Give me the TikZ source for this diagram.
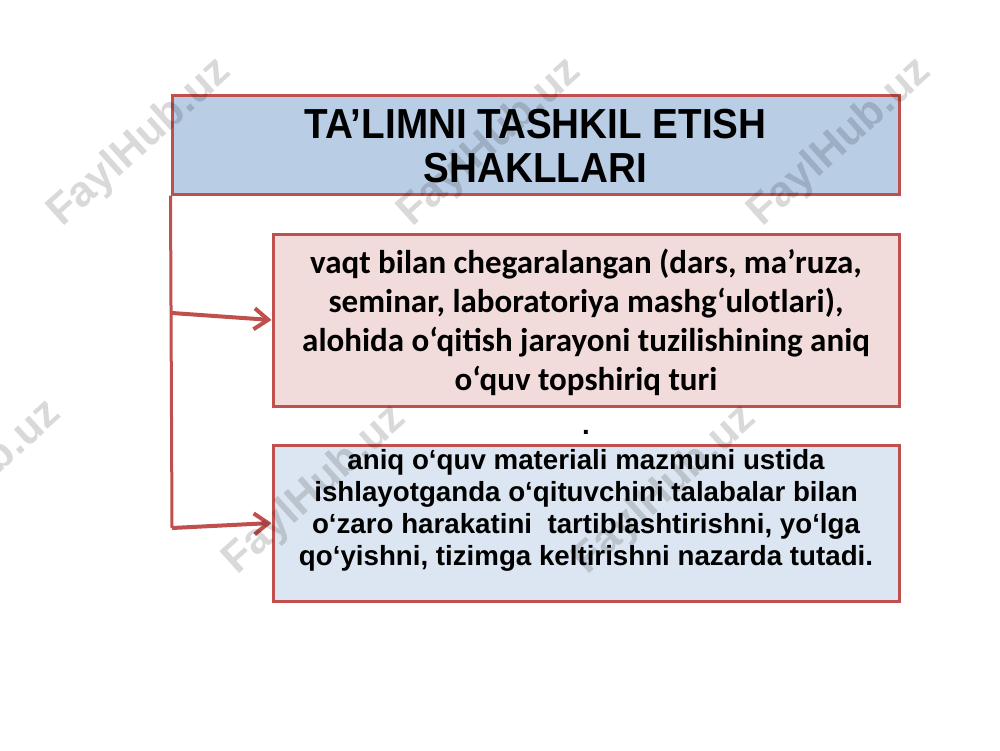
\documentclass[tikz,border=0pt]{standalone}
\usepackage{fontspec}
\setmainfont{Liberation Sans}
\newfontfamily\calib{Carlito}
\newfontfamily\titlefont[FakeStretch=0.92]{Liberation Sans}
\usetikzlibrary{arrows.meta}
\definecolor{redline}{HTML}{C0504D}
\definecolor{titlefill}{HTML}{B9CDE5}
\definecolor{pinkfill}{HTML}{F2DCDB}
\definecolor{bluefill}{HTML}{DCE6F2}
\tikzset{
  boxshape/.style={draw=redline, line width=3pt, rectangle, inner sep=0pt},
  link/.style={draw=redline, line width=4pt, -{Straight Barb[length=14pt,width=21pt]}},
  trunk/.style={draw=redline, line width=3pt},
  wm/.style={font=\bfseries\fontsize{43}{43}\selectfont, text=black, opacity=0.15, rotate=42}
}
\begin{document}
\begin{tikzpicture}[x=1pt,y=-1pt]
\useasboundingbox (0,0) rectangle (1000,750);
\fill[white] (0,0) rectangle (1000,750);

% boxes
\node[boxshape, fill=titlefill, minimum width=727pt, minimum height=99pt] (title) at (535.5,144.5) {};
\node[boxshape, fill=pinkfill, minimum width=626pt, minimum height=172pt] (box1) at (586,320) {};
\node[boxshape, fill=bluefill, minimum width=626pt, minimum height=156pt] (box2) at (586,523) {};

% texts
\node[font=\titlefont\bfseries\fontsize{42}{44}\selectfont, align=center] (titletext) at (535.5,146) {TA’LIMNI TASHKIL ETISH\\SHAKLLARI};
\node[font=\calib\bfseries\fontsize{33}{39}\selectfont, align=center] (text1) at (586,322) {vaqt bilan chegaralangan (dars, ma’ruza,\\seminar, laboratoriya mashg‘ulotlari),\\alohida o‘qitish jarayoni tuzilishining aniq\\o‘quv topshiriq turi};
\node[font=\bfseries\fontsize{27.7}{32}\selectfont, align=center] (text2) at (586,510) {aniq o‘quv materiali mazmuni ustida\\ishlayotganda o‘qituvchini talabalar bilan\\o‘zaro harakatini~ tartiblashtirishni, yo‘lga\\qo‘yishni, tizimga keltirishni nazarda tutadi.};
\node[font=\bfseries\fontsize{27.7}{32}\selectfont, anchor=base] (dot) at (586,434) {.};

% connectors
\coordinate (j1) at (172,313);
\coordinate (j2) at (172,528);
\draw[trunk] (title.south west) -- (j2);
\draw[link] (j1) -- (box1.west);
\draw[link] (j2) -- (box2.west);

% watermarks
\node[wm] (wm1) at (140,143) {FaylHub.uz};
\node[wm] (wm2) at (490,143) {FaylHub.uz};
\node[wm] (wm3) at (840,143) {FaylHub.uz};
\node[wm] (wm4) at (-30,485) {FaylHub.uz};
\node[wm] (wm5) at (315,490) {FaylHub.uz};
\node[wm] (wm6) at (665,490) {FaylHub.uz};
\end{tikzpicture}
\end{document}
